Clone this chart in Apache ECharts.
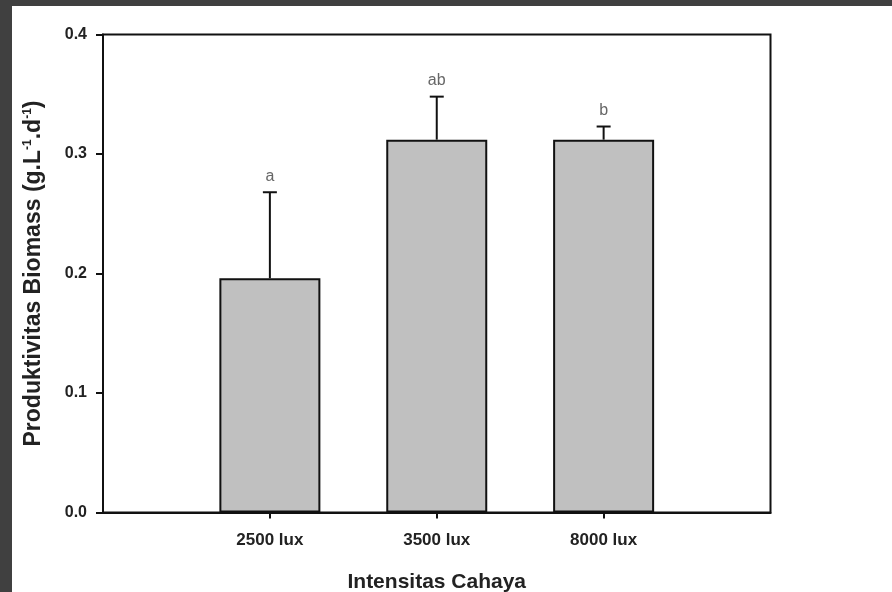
<!DOCTYPE html>
<html>
<head>
<meta charset="utf-8">
<script src="https://cdn.jsdelivr.net/npm/echarts@6/dist/echarts.min.js"></script>
<style>
html,body{margin:0;padding:0;background:#ffffff;}
#c{width:892px;height:592px;}
</style>
</head>
<body>
<div id="c"></div>
<script>
const categories = ['2500 lux', '3500 lux', '8000 lux'];
const biomass = [0.196, 0.312, 0.312];
const errors = [0.072, 0.036, 0.011];
const letters = ['a', 'ab', 'b'];
const yTicks = [0, 0.1, 0.2, 0.3, 0.4];

const FONT = '"Liberation Sans", Arial, sans-serif';
const xCats = [''].concat(categories, ['']);
const barData = [null].concat(biomass, [null]);
const errData = biomass.map((v, i) => [i + 1, v, errors[i]]);

const chart = echarts.init(document.getElementById('c'));
chart.setOption({
  backgroundColor: '#ffffff',
  animation: false,
  graphic: [
    { type: 'rect', left: 0, top: 0, z: -10, shape: { width: 12, height: 592 }, style: { fill: '#404040' } },
    { type: 'rect', left: 0, top: 0, z: -10, shape: { width: 892, height: 6 }, style: { fill: '#404040' } }
  ],
  grid: {
    left: 103, right: 121.5, top: 34.5, bottom: 79.5,
    outerBoundsMode: 'none',
    containLabel: false,
    show: true, borderColor: '#111', borderWidth: 2, backgroundColor: 'transparent'
  },
  xAxis: {
    type: 'category',
    data: xCats,
    boundaryGap: false,
    axisLine: { lineStyle: { color: '#111', width: 2 } },
    axisTick: { length: 6, lineStyle: { color: '#111', width: 2 }, interval: function (i) { return i >= 1 && i <= categories.length; } },
    axisLabel: { interval: 0, margin: 19, color: '#222', fontFamily: FONT, fontWeight: 'bold', fontSize: 17 },
    name: 'Intensitas Cahaya',
    nameLocation: 'middle',
    nameGap: 59,
    nameTextStyle: { color: '#222', fontFamily: FONT, fontWeight: 'bold', fontSize: 21 }
  },
  yAxis: {
    type: 'value',
    min: yTicks[0], max: yTicks[yTicks.length - 1], interval: 0.1,
    splitLine: { show: false },
    axisLine: { show: true, lineStyle: { color: '#111', width: 2 } },
    axisTick: { show: true, length: 7, lineStyle: { color: '#111', width: 2 } },
    axisLabel: { margin: 16, color: '#222', fontFamily: FONT, fontWeight: 'bold', fontSize: 16, formatter: v => v.toFixed(1) },
    name: '{t|Produktivitas Biomass (g.L}{s|-1}{t|.d}{s|-1}{t|)}',
    nameLocation: 'middle',
    nameGap: 58,
    nameTextStyle: {
      rich: {
        t: { color: '#222', fontFamily: FONT, fontWeight: 'bold', fontSize: 23 },
        s: { color: '#222', fontFamily: FONT, fontWeight: 'bold', fontSize: 12, verticalAlign: 'top', padding: [0, 0, 9, 0] }
      }
    }
  },
  series: [
    {
      type: 'bar',
      data: barData,
      barWidth: 101,
      itemStyle: { color: '#c0c0c0', borderColor: '#111', borderWidth: 2 },
      z: 2
    },
    {
      type: 'custom',
      data: errData,
      z: 3,
      renderItem: function (params, api) {
        const x = api.value(0), v = api.value(1), e = api.value(2);
        const base = api.coord([x, v]);
        const top = api.coord([x, v + e]);
        const style = { stroke: '#111', lineWidth: 2 };
        return {
          type: 'group',
          children: [
            { type: 'line', shape: { x1: base[0], y1: base[1], x2: top[0], y2: top[1] }, style: style },
            { type: 'line', shape: { x1: top[0] - 7, y1: top[1], x2: top[0] + 7, y2: top[1] }, style: style },
            { type: 'text', x: top[0], y: top[1] - 8, style: { text: letters[params.dataIndex], fill: '#666', font: '16px ' + FONT, align: 'center', verticalAlign: 'bottom' } }
          ]
        };
      }
    }
  ]
});
</script>
</body>
</html>
